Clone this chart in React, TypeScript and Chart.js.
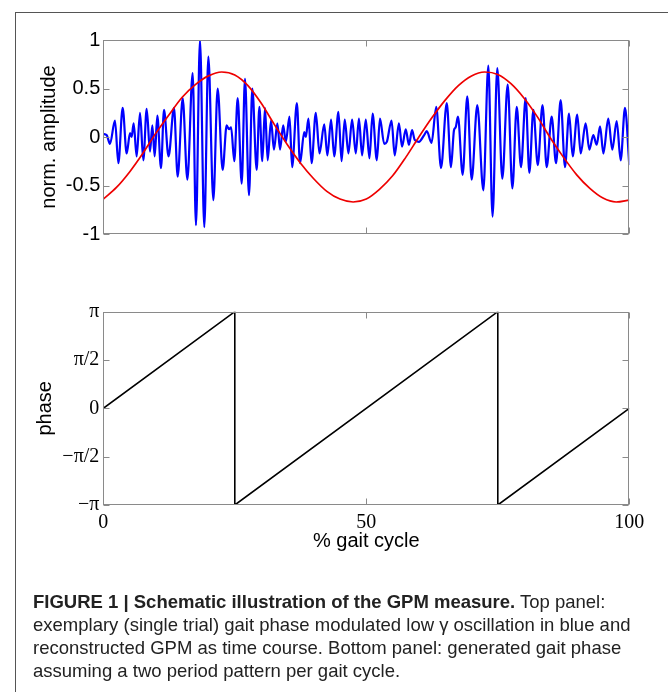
import React, { useEffect, useRef } from "react";
import { Chart, registerables } from "chart.js";

Chart.register(...registerables);

// ---- Top panel: gait-phase modulated low-gamma oscillation (blue), reconstructed GPM (red)
const blueX = [
  0.0, 0.64, 1.27, 2.22, 2.86, 3.68, 4.44, 5.08, 5.39, 5.77, 6.34, 6.98, 7.61, 8.25, 8.88, 9.32,
  9.77, 10.27, 10.97, 11.54, 12.4, 13.44, 14.14, 15.09, 15.98, 16.99, 17.62, 18.38, 19.2, 19.97,
  20.92, 21.74, 22.69, 23.45, 23.9, 24.3, 24.9, 25.55, 26.31, 26.94, 27.7, 28.33, 29.16, 29.67,
  30.23, 30.74, 31.25, 31.88, 32.45, 33.09,
  33.6, 34.2, 34.7, 35.4, 35.9, 36.8, 37.4, 38.2, 38.5, 39.0, 39.6, 40.4, 41.1, 42.0, 42.6, 43.3,
  43.9, 44.7, 45.3, 45.9, 46.6, 47.3, 48.0, 48.6, 49.2, 49.9, 50.6, 51.2, 52.0, 52.6, 53.4, 53.9,
  54.8, 55.4, 56.2, 56.8, 57.5, 58.1, 58.7, 59.2, 60.0, 61.0, 61.5, 62.4, 63.3, 64.2, 65.3, 66.1,
  66.67, 66.99, 67.43, 68.32, 69.2, 70.03, 71.1, 72.25, 73.2, 74.0, 74.9, 75.86, 76.88, 77.77,
  78.6, 79.41, 80.3, 81.0, 81.76, 82.6, 83.5, 84.3, 85.24, 86.07, 86.95, 87.78, 88.54, 89.24,
  90.1, 90.76, 91.7, 92.4, 93.16, 93.8, 94.44, 95.07, 96.0, 96.77, 97.6, 98.36, 99.18, 100,
];
const blueY = [
  0.03, 0.02, -0.07, 0.17, -0.27, 0.3, -0.17, 0.04, 0.0, 0.14, -0.2, 0.25, -0.24, 0.29, -0.15, 0.12,
  -0.2, 0.22, -0.32, 0.28, -0.2, 0.3, -0.41, 0.4, -0.44, 0.66, -0.91, 1.0, -0.93, 0.83,
  -0.65, 0.5, -0.34, 0.12, 0.08, 0.1, -0.25, 0.4, -0.48, 0.6, -0.6, 0.5, -0.34, 0.31,
  -0.25, 0.3, -0.24, 0.17, -0.13, 0.14,
  -0.13, 0.12, -0.05, 0.21, -0.31, 0.35, -0.27, 0.05, 0.0, 0.19, -0.27, 0.25, -0.17, 0.13, -0.19, 0.18,
  -0.2, 0.26, -0.25, 0.18, -0.17, 0.18, -0.17, 0.19, -0.19, 0.18, -0.22, 0.24, -0.24, 0.19, -0.07, -0.05,
  0.17, -0.19, 0.14, -0.1, 0.08, -0.08, 0.07, -0.03, -0.05, 0.02, 0.06, -0.06, 0.31, -0.32, 0.35, -0.31,
  0.07, 0.1, 0.21, -0.39, 0.42, -0.44, 0.33, -0.55, 0.735, -0.82, 0.71, -0.43, 0.54, -0.53,
  0.31, -0.31, 0.4, -0.37, 0.28, -0.29, 0.33, -0.31, 0.21, -0.27, 0.38, -0.31, 0.24, -0.2,
  0.23, -0.17, 0.14, -0.13, 0.02, -0.08, 0.11, -0.17, 0.19, -0.13, 0.165, -0.24, 0.3, -0.29,
];
const redX = [
  0, 2.5, 5, 7.5, 10, 12.5, 15, 17.5, 20, 22.5, 25, 27.5, 30, 32.5, 35, 37.5, 40, 42.5, 45, 47.5,
  50, 52.5, 55, 57.5, 60, 62.5, 65, 67.5, 70, 72.5, 75, 77.5, 80, 82.5, 85, 87.5, 90, 92.5, 95, 97.5, 100,
];
const redY = [
  -0.64, -0.52, -0.36, -0.17, 0.04, 0.23, 0.41, 0.54, 0.63, 0.67, 0.64, 0.53, 0.35, 0.13, -0.08, -0.27,
  -0.43, -0.56, -0.64, -0.67, -0.64, -0.54, -0.4, -0.21, 0.0, 0.2, 0.38, 0.53, 0.63, 0.67, 0.645, 0.55,
  0.4, 0.21, -0.01, -0.21, -0.39, -0.53, -0.63, -0.67, -0.65,
];
const ampTicks = [-1, -0.5, 0, 0.5, 1];
const ampTickLabels = ["-1", "-0.5", "0", "0.5", "1"];

// ---- Bottom panel: generated gait phase (two periods per gait cycle)
const phaseX = [0, 25, 25, 75, 75, 100];
const phaseY = [0, Math.PI, -Math.PI, Math.PI, -Math.PI, 0];
const phaseTicks = [-Math.PI, -Math.PI / 2, 0, Math.PI / 2, Math.PI];
const phaseTickLabels = ["\u2212\u03c0", "\u2212\u03c0/2", "0", "\u03c0/2", "\u03c0"];

const xTicks = [0, 50, 100];
const xTickLabels = ["0", "50", "100"];

const SANS = 'Arial, "Liberation Sans", Helvetica, sans-serif';
const SERIF = '"Times New Roman", "Liberation Serif", Times, serif';
const BOX_COLOR = "#8a8a8a";

const boxPlugin = {
  id: "matlabBox",
  afterDraw(chart: any) {
    const { ctx, chartArea: a, scales } = chart;
    const o = chart.options.plugins.matlabBox;
    const L = Math.round(a.left) + 0.5;
    const R = Math.round(a.right) - 0.5;
    const T = Math.round(a.top) + 0.5;
    const B = Math.round(a.bottom) - 0.5;
    const len = 6;
    ctx.save();
    ctx.strokeStyle = BOX_COLOR;
    ctx.lineWidth = 1;
    ctx.strokeRect(L, T, R - L, B - T);
    ctx.beginPath();
    o.yTicks.forEach((v: number) => {
      const p = Math.round(scales.y.getPixelForValue(v)) + 0.5;
      ctx.moveTo(L, p);
      ctx.lineTo(L + len, p);
      ctx.moveTo(R, p);
      ctx.lineTo(R - len, p);
    });
    o.xTicks.forEach((v: number) => {
      const p = Math.round(scales.x.getPixelForValue(v)) + 0.5;
      ctx.moveTo(p, B);
      ctx.lineTo(p, B - len);
      ctx.moveTo(p, T);
      ctx.lineTo(p, T + len);
    });
    ctx.stroke();
    ctx.restore();
  },
};

const PLOT_LEFT = 103.3;
const PLOT_RIGHT_PAD = 668 - 629.3;

export default function App() {
  const topRef = useRef<HTMLCanvasElement | null>(null);
  const botRef = useRef<HTMLCanvasElement | null>(null);

  useEffect(() => {
    const top = new Chart(topRef.current as HTMLCanvasElement, {
      type: "line",
      data: {
        datasets: [
          {
            data: redX.map((x, i) => ({ x, y: redY[i] })),
            borderColor: "#ee0000",
            borderWidth: 1.7,
            pointRadius: 0,
            cubicInterpolationMode: "monotone",
          },
          {
            data: blueX.map((x, i) => ({ x, y: blueY[i] })),
            borderColor: "#0000ff",
            borderWidth: 2.2,
            pointRadius: 0,
            cubicInterpolationMode: "monotone",
          },
        ],
      },
      options: {
        animation: false,
        responsive: false,
        maintainAspectRatio: false,
        layout: { padding: { top: 40, bottom: 692 - 234, left: 0, right: PLOT_RIGHT_PAD } },
        plugins: {
          legend: { display: false },
          tooltip: { enabled: false },
          matlabBox: { yTicks: ampTicks, xTicks: xTicks },
        } as any,
        scales: {
          x: { type: "linear", min: 0, max: 100, display: false },
          y: {
            type: "linear",
            min: -1,
            max: 1,
            grid: { display: false, drawTicks: false },
            border: { display: false },
            afterBuildTicks: (s: any) => {
              s.ticks = ampTicks.map((v) => ({ value: v }));
            },
            afterFit: (s: any) => {
              s.width = PLOT_LEFT;
            },
            ticks: {
              autoSkip: false,
              padding: 3,
              color: "#000",
              font: { family: SANS, size: 20 },
              callback: (_v: any, i: number) => ampTickLabels[i],
            },
            title: {
              display: true,
              text: "norm. amplitude",
              color: "#000",
              font: { family: SANS, size: 20 },
              padding: { top: 37, bottom: 0 },
            },
          },
        },
      },
      plugins: [boxPlugin],
    } as any);

    const bot = new Chart(botRef.current as HTMLCanvasElement, {
      type: "line",
      data: {
        datasets: [
          {
            data: phaseX.map((x, i) => ({ x, y: phaseY[i] })),
            borderColor: "#000",
            borderWidth: 1.6,
            pointRadius: 0,
            tension: 0,
          },
        ],
      },
      options: {
        animation: false,
        responsive: false,
        maintainAspectRatio: false,
        layout: { padding: { top: 311.7, bottom: 0, left: 0, right: PLOT_RIGHT_PAD } },
        plugins: {
          legend: { display: false },
          tooltip: { enabled: false },
          matlabBox: { yTicks: phaseTicks, xTicks: xTicks },
        } as any,
        scales: {
          x: {
            type: "linear",
            min: 0,
            max: 100,
            grid: { display: false, drawTicks: false },
            border: { display: false },
            afterBuildTicks: (s: any) => {
              s.ticks = xTicks.map((v) => ({ value: v }));
            },
            afterFit: (s: any) => {
              s.height = 692 - 505;
            },
            ticks: {
              autoSkip: false,
              maxRotation: 0,
              padding: 5.4,
              color: "#000",
              font: { family: SERIF, size: 20 },
              callback: (_v: any, i: number) => xTickLabels[i],
            },
            title: {
              display: true,
              text: "% gait cycle",
              color: "#000",
              font: { family: SANS, size: 20 },
              padding: { top: 0, bottom: 138.6 },
            },
          },
          y: {
            type: "linear",
            min: -Math.PI,
            max: Math.PI,
            grid: { display: false, drawTicks: false },
            border: { display: false },
            afterBuildTicks: (s: any) => {
              s.ticks = phaseTicks.map((v) => ({ value: v }));
            },
            afterFit: (s: any) => {
              s.width = PLOT_LEFT;
            },
            ticks: {
              autoSkip: false,
              padding: 4,
              color: "#000",
              font: { family: SERIF, size: 20 },
              callback: (_v: any, i: number) => phaseTickLabels[i],
            },
            title: {
              display: true,
              text: "phase",
              color: "#000",
              font: { family: SANS, size: 20 },
              padding: { top: 33, bottom: 0 },
            },
          },
        },
      },
      plugins: [boxPlugin],
    } as any);

    return () => {
      top.destroy();
      bot.destroy();
    };
  }, []);

  return (
    <div
      style={{
        position: "absolute",
        left: 0,
        top: 0,
        width: 668,
        height: 692,
        background: "#fff",
        overflow: "hidden",
      }}
    >
      <div
        style={{
          position: "absolute",
          left: 15,
          top: 12,
          width: 700,
          height: 700,
          borderLeft: "1px solid #555",
          borderTop: "1px solid #555",
        }}
      />
      <canvas
        ref={topRef}
        width={668}
        height={692}
        style={{ position: "absolute", left: 0, top: 0, width: 668, height: 692 }}
      />
      <canvas
        ref={botRef}
        width={668}
        height={692}
        style={{ position: "absolute", left: 0, top: 0, width: 668, height: 692 }}
      />
      <div
        style={{
          position: "absolute",
          left: 33,
          top: 590.4,
          fontFamily: SANS,
          fontSize: 18.5,
          lineHeight: "23px",
          color: "#222",
          whiteSpace: "nowrap",
        }}
      >
        <div>
          <b>FIGURE 1 | Schematic illustration of the GPM measure.</b> Top panel:
        </div>
        <div>exemplary (single trial) gait phase modulated low γ oscillation in blue and</div>
        <div>reconstructed GPM as time course. Bottom panel: generated gait phase</div>
        <div>assuming a two period pattern per gait cycle.</div>
      </div>
    </div>
  );
}
